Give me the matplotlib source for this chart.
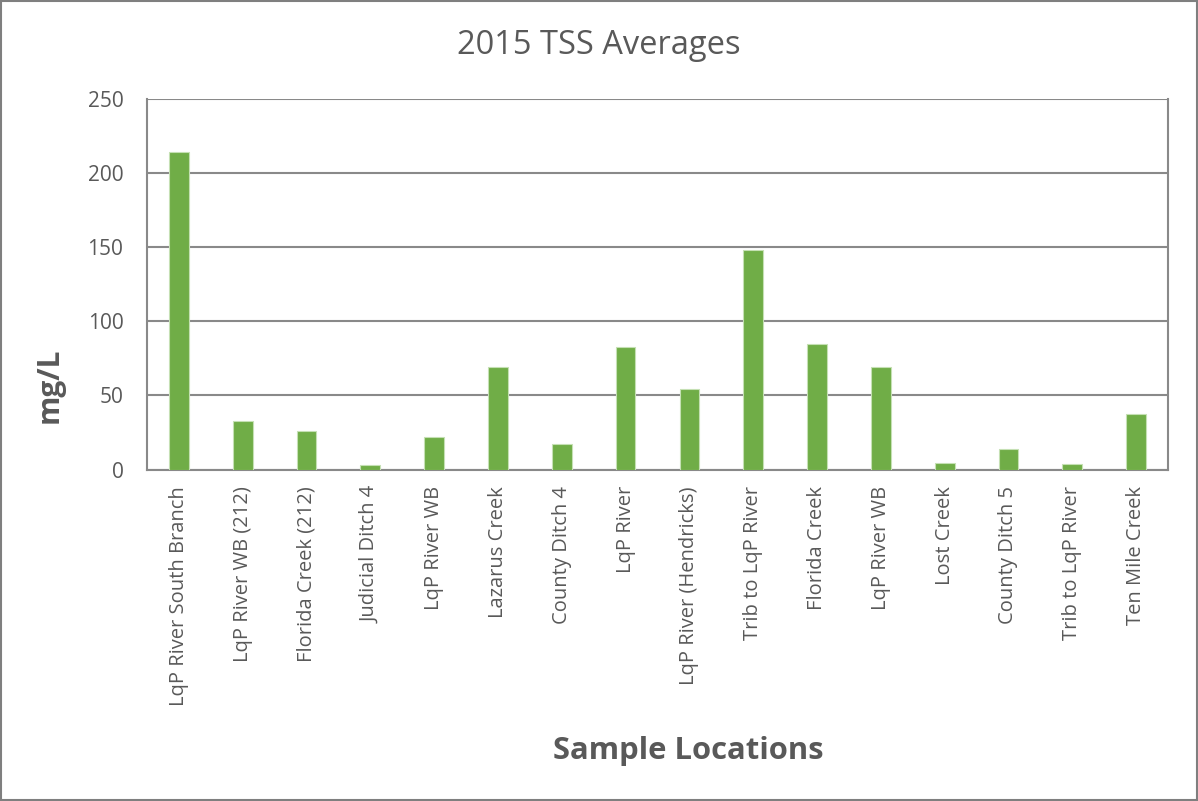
import matplotlib
matplotlib.use("Agg")
import matplotlib.pyplot as plt
import numpy as np

# data
locations = [
    "LqP River South Branch", "LqP River WB (212)", "Florida Creek (212)",
    "Judicial Ditch 4", "LqP River WB", "Lazarus Creek", "County Ditch 4",
    "LqP River", "LqP River (Hendricks)", "Trib to LqP River", "Florida Creek",
    "LqP River WB", "Lost Creek", "County Ditch 5", "Trib to LqP River",
    "Ten Mile Creek",
]
tss_avg = [214, 33, 25.8, 3, 22.2, 69, 17, 82.6, 54.2, 147.8, 84.8, 69.3, 4.4, 13.6, 4, 37.7]
y_ticks = [0, 50, 100, 150, 200, 250]

text_col = "#595959"
grid_col = "#898989"
bar_col = "#70AD47"

plt.rcParams['font.family'] = ['Open Sans', 'DejaVu Sans']

fig = plt.figure(figsize=(11.98, 8.01), dpi=100)
ax = fig.add_axes([147 / 1198, 1 - 469.5 / 801, (1168 - 147) / 1198, (469.5 - 99) / 801])

x = np.arange(len(locations))
ax.bar(x, tss_avg, width=0.31, color=bar_col, edgecolor="#c5e0b4", linewidth=0.8, zorder=3)

ax.set_xlim(-0.5, len(locations) - 0.5)
ax.set_ylim(0, 250)
ax.set_yticks(y_ticks)
ax.yaxis.grid(True, color=grid_col, linewidth=1.5, zorder=0)
ax.set_axisbelow(True)

ax.set_xticks(x)
ax.set_xticklabels(locations, rotation=90, ha="center", va="top")
ax.tick_params(axis="x", length=0, pad=12, labelsize=14.5, labelcolor=text_col)
ax.tick_params(axis="y", length=0, pad=17, labelsize=15, labelcolor=text_col)

for side in ["left", "right", "bottom", "top"]:
    ax.spines[side].set_color(grid_col)
    ax.spines[side].set_linewidth(1.5)
ax.spines["top"].set_visible(False)

fig.text(0.5, 1 - 45 / 801, "2015 TSS Averages", ha="center", va="center",
         fontsize=23.5, color=text_col)
fig.text(50 / 1198, 1 - 385 / 801, "mg/L", ha="center", va="center", rotation=90,
         fontsize=21.5, fontweight="bold", color=text_col)
fig.text(688 / 1198, 1 - 751 / 801, "Sample Locations", ha="center", va="center",
         fontsize=22.3, fontweight="bold", color=text_col)

# outer border of the chart area
fig.patches.append(plt.Rectangle((0.001, 0.001), 0.998, 0.998, transform=fig.transFigure,
                                 fill=False, edgecolor="#7f7f7f", linewidth=1.5))

fig.savefig("out.png", dpi=100)
